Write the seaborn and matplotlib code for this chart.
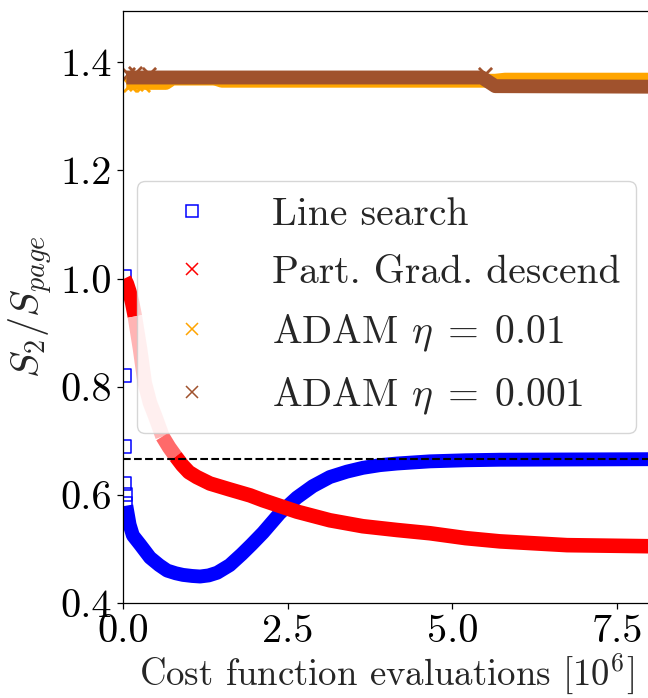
import matplotlib
matplotlib.use("Agg")
import matplotlib.pyplot as plt
import seaborn as sns
import pandas as pd
from matplotlib.lines import Line2D

# ---------------- data ----------------
# Line search: first sparse evaluations near x = 0
ls_start_x = [0.02, 0.02, 0.025, 0.03, 0.035, 0.04]
ls_start_y = [1.004, 0.821, 0.689, 0.621, 0.600, 0.585]
# Line search: dense band
ls_x = [0.05, 0.10, 0.15, 0.26, 0.41, 0.55, 0.67, 0.80, 0.91, 1.05, 1.17,
        1.30, 1.43, 1.62, 1.80, 1.95, 2.125, 2.38, 2.64, 2.88, 3.14, 3.40,
        3.64, 3.90, 4.16, 4.66, 5.20, 5.72, 8.0]
ls_y = [0.580, 0.545, 0.525, 0.508, 0.484, 0.470, 0.460, 0.455, 0.452,
        0.450, 0.449, 0.451, 0.456, 0.470, 0.490, 0.508, 0.530, 0.566,
        0.595, 0.616, 0.633, 0.643, 0.650, 0.655, 0.658, 0.662, 0.664,
        0.665, 0.666]

# Partial gradient descend
pgd_x = [0.02, 0.06, 0.10, 0.14, 0.18, 0.26, 0.33, 0.41, 0.49, 0.60, 0.70,
         0.80, 0.90, 1.00, 1.12, 1.32, 1.62, 1.93, 2.125, 2.64, 3.14, 3.64,
         4.16, 4.66, 5.20, 5.72, 6.74, 8.0]
pgd_y = [1.000, 0.990, 0.975, 0.955, 0.930, 0.869, 0.807, 0.770, 0.745,
         0.708, 0.688, 0.671, 0.655, 0.642, 0.633, 0.621, 0.610, 0.599,
         0.590, 0.569, 0.553, 0.542, 0.535, 0.529, 0.520, 0.514, 0.507,
         0.505]

# ADAM eta = 0.01
adam1_x = [0.05, 0.65, 0.75, 1.40, 1.50, 5.65, 5.80, 8.0]
adam1_y = [1.362, 1.362, 1.370, 1.370, 1.366, 1.366, 1.368, 1.368]
adam1_pts_x = [0.10, 0.20, 0.30]
adam1_pts_y = [1.359, 1.360, 1.358]

# ADAM eta = 0.001
adam2_x = [0.05, 5.45, 5.65, 8.0]
adam2_y = [1.372, 1.372, 1.356, 1.355]
adam2_pts_x = [0.08, 0.18, 0.40, 5.50]
adam2_pts_y = [1.378, 1.380, 1.379, 1.379]

ref_level = 2.0 / 3.0

labels = ["Line search", "Part. Grad. descend",
          r"ADAM $\eta\;=\;0.01$", r"ADAM $\eta\;=\;0.001$"]
colors = ["#0000ff", "#ff0000", "#ffa500", "#a0522d"]

x_ticks = [0.0, 2.5, 5.0, 7.5]
y_ticks = [0.4, 0.6, 0.8, 1.0, 1.2, 1.4]

# ---------------- style ----------------
sns.set_style("ticks")
plt.rcParams["font.family"] = ["cmr10", "DejaVu Serif"]
plt.rcParams["mathtext.fontset"] = "cm"
plt.rcParams["axes.formatter.use_mathtext"] = True
plt.rcParams["axes.unicode_minus"] = False

fig = plt.figure(figsize=(6.48, 6.98), dpi=100)
ax = fig.add_axes([123 / 648, 1 - 603 / 698, 527 / 648, 592 / 698])

line_kw = dict(sort=False, estimator=None, legend=False, ax=ax,
               solid_capstyle="butt", solid_joinstyle="round")

# Line search
ls_df = pd.DataFrame({"x": ls_x, "y": ls_y})
sns.lineplot(data=ls_df, x="x", y="y", color=colors[0], linewidth=10.0, **line_kw)
sns.scatterplot(x=ls_start_x, y=ls_start_y, marker="s", s=85,
                facecolor="none", edgecolor=colors[0], linewidth=1.1,
                legend=False, ax=ax)

# Partial gradient descend (band with a lighter, sparse section)
pgd_df = pd.DataFrame({"x": pgd_x, "y": pgd_y})
head = pgd_df[pgd_df.x <= 0.18]
mid = pgd_df[(pgd_df.x >= 0.18) & (pgd_df.x <= 0.60)]
fade = pgd_df[(pgd_df.x >= 0.60) & (pgd_df.x <= 0.80)]
tail = pgd_df[pgd_df.x >= 0.80]
sns.lineplot(data=head, x="x", y="y", color=colors[1], linewidth=10.5, **line_kw)
sns.lineplot(data=mid, x="x", y="y", color="#ffb4b4", linewidth=10.5, **line_kw)
sns.lineplot(data=fade, x="x", y="y", color="#ff6a6a", linewidth=10.5, **line_kw)
sns.lineplot(data=tail, x="x", y="y", color=colors[1], linewidth=10.5, **line_kw)

# ADAM runs
a1_df = pd.DataFrame({"x": adam1_x, "y": adam1_y})
a2_df = pd.DataFrame({"x": adam2_x, "y": adam2_y})
sns.lineplot(data=a1_df, x="x", y="y", color=colors[2], linewidth=10.0, **line_kw)
sns.scatterplot(x=adam1_pts_x, y=adam1_pts_y, marker="x", s=90,
                color=colors[2], linewidth=2.0, legend=False, ax=ax)
sns.lineplot(data=a2_df, x="x", y="y", color=colors[3], linewidth=10.0, **line_kw)
sns.scatterplot(x=adam2_pts_x, y=adam2_pts_y, marker="x", s=90,
                color=colors[3], linewidth=2.0, legend=False, ax=ax)

# reference level
ax.axhline(ref_level, color="black", linestyle="--", linewidth=1.5)

# axes
ax.set_xlim(0, 8.0)
ax.set_ylim(0.4, 1.495)
ax.set_xticks(x_ticks)
ax.set_yticks(y_ticks)
ax.set_xticklabels([f"{v:.1f}" for v in x_ticks])
ax.set_yticklabels([f"{v:.1f}" for v in y_ticks])
ax.tick_params(labelsize=29, length=4.5, width=0.9, direction="out",
               colors="black")
for s in ax.spines.values():
    s.set_visible(True)
    s.set_linewidth(0.9)
    s.set_color("black")
ax.set_xlabel(r"Cost function evaluations $[10^6]$", fontsize=26.5, labelpad=1)
ax.set_ylabel(r"$S_2/S_{page}$", fontsize=29, labelpad=4)

# legend
handles = [
    Line2D([], [], linestyle="none", marker="s", markersize=9,
           markerfacecolor="none", markeredgecolor=colors[0],
           markeredgewidth=1.1),
    Line2D([], [], linestyle="none", marker="x", markersize=9,
           color=colors[1], markeredgewidth=1.1),
    Line2D([], [], linestyle="none", marker="x", markersize=9,
           color=colors[2], markeredgewidth=1.1),
    Line2D([], [], linestyle="none", marker="x", markersize=9,
           color=colors[3], markeredgewidth=1.1),
]
ax.legend(handles=handles, labels=labels, loc="center", fontsize=28.5,
          frameon=True, framealpha=0.8, edgecolor="0.8", fancybox=True,
          handletextpad=1.0, labelspacing=0.55)

fig.savefig("out.png", dpi=100)
